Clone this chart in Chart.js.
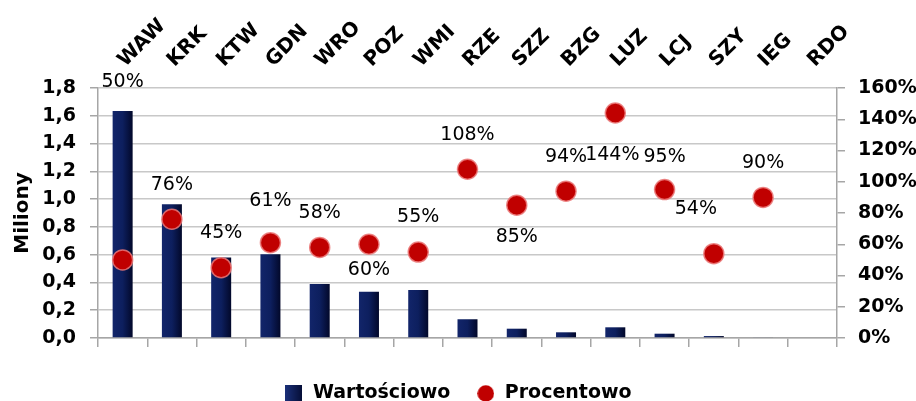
<!DOCTYPE html>
<html>
<head>
<meta charset="utf-8">
<script src="https://cdn.jsdelivr.net/npm/chart.js@4"></script>
<style>
  body { margin: 0; background: #fff; }
  #wrap { width: 916px; height: 401px; }
</style>
</head>
<body>
<div id="wrap"><canvas id="chart"></canvas></div>
<script>
// data
const categories = ['WAW', 'KRK', 'KTW', 'GDN', 'WRO', 'POZ', 'WMI', 'RZE', 'SZZ', 'BZG', 'LUZ', 'LCJ', 'SZY', 'IEG', 'RDO'];
const valueMillions = [1.634, 0.963, 0.58, 0.603, 0.389, 0.333, 0.345, 0.135, 0.067, 0.041, 0.077, 0.031, 0.014, 0.005, 0];
const percentValues = [50, 76, 45, 61, 58, 60, 55, 108, 85, 94, 144, 95, 54, 90, null];
const leftTicks = [0, 0.2, 0.4, 0.6, 0.8, 1.0, 1.2, 1.4, 1.6, 1.8];
const rightTicks = [0, 20, 40, 60, 80, 100, 120, 140, 160];

// where each % label sits relative to its dot (hand placed in the original)
const labelOffsets = [
    [0, -178], [0, -34], [0, -35], [0, -42], [0, -34], [0, 26], [0, -35],
    [0, -34], [0, 32], [0, -34], [-3, 42], [0, -33], [-18, -45], [0, -34], [0, 0]
];

Chart.defaults.font.family = '"DejaVu Sans", sans-serif';
Chart.defaults.color = '#000';

const BAR_PCT = 0.406;
const NAVY = '#0d1f5e';
const RED = '#c00000';

// horizontal shading of the navy bars
function barFill(c) {
    const chart = c.chart;
    const xs = chart.scales.x;
    if (!chart.chartArea || !xs || c.dataIndex === undefined) return NAVY;
    const cx = xs.getPixelForValue(c.dataIndex);
    const half = xs.width / categories.length * BAR_PCT / 2;
    const g = chart.ctx.createLinearGradient(cx - half, 0, cx + half, 0);
    g.addColorStop(0, '#12256a');
    g.addColorStop(0.5, NAVY);
    g.addColorStop(1, '#02082a');
    return g;
}

// small canvases used as legend markers
function marker(kind) {
    const c = document.createElement('canvas');
    c.width = 17; c.height = 17;
    const x = c.getContext('2d');
    if (kind === 'rect') {
        const g = x.createLinearGradient(0, 0, 17, 0);
        g.addColorStop(0, '#1a2f78');
        g.addColorStop(1, '#050d35');
        x.fillStyle = g;
        x.fillRect(0, 0, 17, 17);
    } else {
        x.fillStyle = RED;
        x.beginPath();
        x.arc(8.5, 8.5, 8.3, 0, Math.PI * 2);
        x.fill();
    }
    return c;
}

// draws the % text next to every red dot
const pctLabels = {
    id: 'pctLabels',
    afterDatasetsDraw(chart) {
        const meta = chart.getDatasetMeta(1);
        const ctx = chart.ctx;
        ctx.save();
        ctx.font = '19px "DejaVu Sans"';
        ctx.fillStyle = '#000';
        ctx.textAlign = 'center';
        ctx.textBaseline = 'middle';
        meta.data.forEach((pt, i) => {
            if (percentValues[i] == null) return;
            const off = labelOffsets[i];
            ctx.fillText(percentValues[i] + '%', pt.x + off[0], pt.y + off[1]);
        });
        ctx.restore();
    }
};

// keep the legend short so the plot reaches down as in the original
const legendFit = {
    id: 'legendFit',
    beforeInit(chart) {
        const fit = chart.legend.fit;
        chart.legend.fit = function () {
            fit.call(this);
            this.height = 43;
        };
    }
};

const tickFont = { size: 19, weight: 'bold' };

new Chart(document.getElementById('chart'), {
    data: {
        labels: categories,
        datasets: [{
            type: 'bar',
            label: 'Wartościowo',
            data: valueMillions,
            xAxisID: 'x',
            yAxisID: 'y',
            backgroundColor: barFill,
            borderWidth: 0,
            barPercentage: BAR_PCT,
            categoryPercentage: 1,
            order: 2
        }, {
            type: 'line',
            label: 'Procentowo',
            data: percentValues,
            xAxisID: 'x',
            yAxisID: 'y2',
            showLine: false,
            pointRadius: 10,
            pointHoverRadius: 10,
            pointStyle: 'circle',
            backgroundColor: RED,
            borderColor: 'rgba(235,120,120,0.85)',
            borderWidth: 1.5,
            order: 1
        }]
    },
    options: {
        responsive: true,
        maintainAspectRatio: false,
        animation: false,
        layout: { padding: 0 },
        plugins: {
            tooltip: { enabled: false },
            legend: {
                position: 'bottom',
                labels: {
                    usePointStyle: true,
                    boxHeight: 17,
                    padding: 26,
                    font: { size: 19, weight: 'bold' },
                    color: '#000',
                    generateLabels: chart => chart.data.datasets.map((ds, i) => ({
                        text: ds.label,
                        datasetIndex: i,
                        pointStyle: i === 0 ? marker('rect') : marker('circle'),
                        fillStyle: i === 0 ? NAVY : RED,
                        strokeStyle: 'transparent',
                        lineWidth: 0,
                        fontColor: '#000',
                        hidden: false
                    }))
                }
            }
        },
        scales: {
            x: {
                type: 'category',
                position: 'bottom',
                offset: true,
                grid: { offset: true, drawOnChartArea: false, tickLength: 9, color: '#a6a6a6', lineWidth: 1.5 },
                border: { color: '#a6a6a6', width: 1.5 },
                ticks: { display: false },
                afterFit: s => { s.height = 20; }
            },
            x2: {
                type: 'category',
                position: 'top',
                offset: true,
                grid: { display: false },
                border: { display: false },
                ticks: {
                    minRotation: 45,
                    maxRotation: 45,
                    autoSkip: false,
                    padding: 8,
                    labelOffset: 16,
                    font: { size: 20, weight: 'bold' }
                },
                afterFit: s => { s.height = 88; }
            },
            y: {
                position: 'left',
                min: 0,
                max: 1.8,
                afterBuildTicks: s => { s.ticks = leftTicks.map(v => ({ value: v })); },
                ticks: {
                    autoSkip: false,
                    padding: 14,
                    font: tickFont,
                    callback: v => v.toFixed(1).replace('.', ',')
                },
                grid: { color: '#c8c8c8', lineWidth: 1.5, tickLength: 8, tickColor: '#a6a6a6' },
                border: { color: '#a6a6a6', width: 1.5 },
                title: {
                    display: true,
                    text: 'Miliony',
                    font: { size: 20, weight: 'bold' },
                    padding: { top: 11, bottom: 0 }
                },
                afterFit: s => { s.width = 98; }
            },
            y2: {
                position: 'right',
                min: 0,
                max: 160,
                afterBuildTicks: s => { s.ticks = rightTicks.map(v => ({ value: v })); },
                ticks: {
                    autoSkip: false,
                    padding: 13,
                    font: tickFont,
                    callback: v => v + '%'
                },
                grid: { drawOnChartArea: false, tickLength: 8, color: '#a6a6a6', lineWidth: 1.5 },
                border: { color: '#a6a6a6', width: 1.5 },
                afterFit: s => { s.width = 79; }
            }
        }
    },
    plugins: [pctLabels, legendFit]
});
</script>
</body>
</html>
